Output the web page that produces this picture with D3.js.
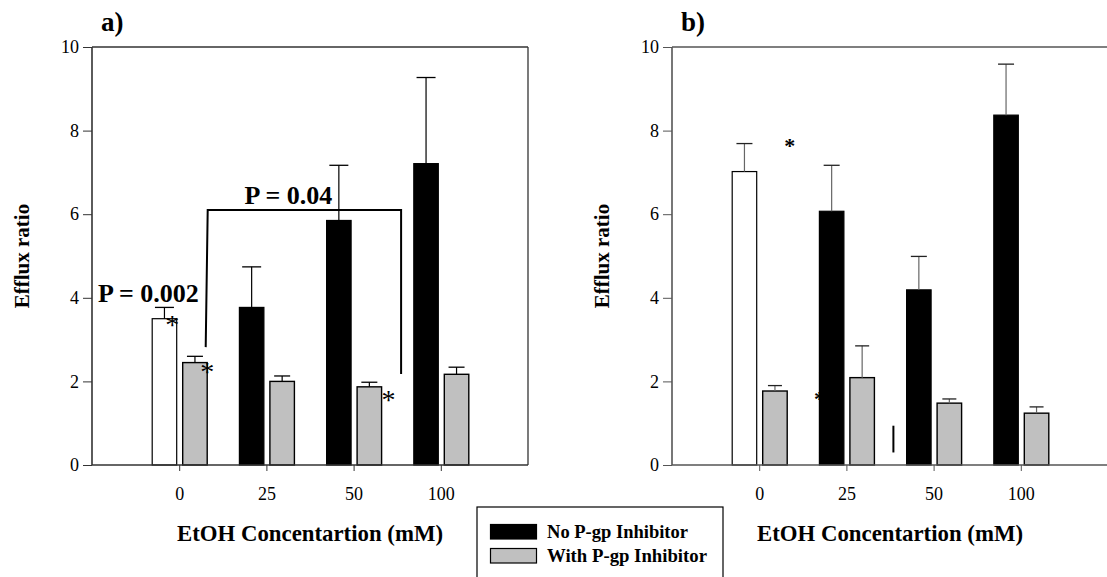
<!DOCTYPE html>
<html>
<head>
<meta charset="utf-8">
<script src="https://cdn.jsdelivr.net/npm/d3@7"></script>
<style>
  html, body { margin: 0; padding: 0; background: #fff; }
  svg { display: block; }
  svg text { font-family: "Liberation Serif", "DejaVu Serif", serif !important; fill: #000; }
</style>
</head>
<body>
<svg id="chart" width="1107" height="577"></svg>
<script>
// EtOH concentrations (mM)
const categories = ["0", "25", "50", "100"];
const yTicks = [0, 2, 4, 6, 8, 10];

// Panel a) efflux ratios
const aNoInhibitor = [3.5, 3.77, 5.85, 7.21];
const aNoInhibitorErr = [0.27, 0.97, 1.32, 2.06];
const aWithInhibitor = [2.45, 2.0, 1.87, 2.17];
const aWithInhibitorErr = [0.15, 0.13, 0.11, 0.17];

// Panel b) efflux ratios
const bNoInhibitor = [7.02, 6.07, 4.19, 8.37];
const bNoInhibitorErr = [0.67, 1.1, 0.8, 1.22];
const bWithInhibitor = [1.77, 2.09, 1.48, 1.24];
const bWithInhibitorErr = [0.13, 0.76, 0.1, 0.15];

// control group (0 mM) is drawn open, the rest solid
const noInhibitorFill = ["#ffffff", "#000000", "#000000", "#000000"];
const legendLabels = ["No P-gp Inhibitor", "With P-gp Inhibitor"];

const FONT = "'Liberation Serif', 'DejaVu Serif', serif";
const svg = d3.select("#chart");
const W = 436, H = 418, TOP = 47;

// asterisk centred on (cx, y-value)
function star(p, y, cx, v, size, weight) {
  p.append("text").attr("x", cx).attr("y", y(v) + size * 0.45)
    .attr("text-anchor", "middle").attr("font-size", size)
    .attr("font-weight", weight || "normal").text("*");
}

function panel(offsetX, label, noInh, noErr, withInh, withErr, opts) {
  const g = svg.append("g").attr("transform", `translate(${offsetX},0)`);
  const x = d3.scalePoint().domain(categories).range([W / 5, 4 * W / 5]);
  const y = d3.scaleLinear().domain([0, 10]).range([TOP + H, TOP]);
  const left = 92;
  const bw = 24.5;

  const plot = g.append("g").attr("transform", `translate(${left},0)`);

  // annotations drawn beneath the bars
  if (opts.under) opts.under(plot, x, y);

  // frame (top and right)
  plot.append("line").attr("x1", 0).attr("x2", W).attr("y1", TOP).attr("y2", TOP)
    .attr("stroke", opts.axisColor).attr("stroke-width", 1.3);
  plot.append("line").attr("x1", W).attr("x2", W).attr("y1", TOP).attr("y2", TOP + H)
    .attr("stroke", opts.axisColor).attr("stroke-width", 1.3);

  // bars without inhibitor
  plot.selectAll(".bNo").data(noInh).join("rect")
    .attr("x", (d, i) => x(categories[i]) - 27)
    .attr("width", bw)
    .attr("y", d => y(d))
    .attr("height", d => y(0) - y(d))
    .attr("fill", (d, i) => noInhibitorFill[i])
    .attr("stroke", "#000").attr("stroke-width", 1.2);

  // bars with inhibitor
  plot.selectAll(".bWith").data(withInh).join("rect")
    .attr("x", (d, i) => x(categories[i]) + 3.5)
    .attr("width", bw)
    .attr("y", d => y(d))
    .attr("height", d => y(0) - y(d))
    .attr("fill", "#c0c0c0")
    .attr("stroke", "#000").attr("stroke-width", 1.4);

  // error bars (upper only)
  function errBars(vals, errs, cx, capW) {
    vals.forEach((v, i) => {
      const xc = cx(i);
      plot.append("line").attr("x1", xc).attr("x2", xc)
        .attr("y1", y(v)).attr("y2", y(v + errs[i]))
        .attr("stroke", opts.errColor).attr("stroke-width", 1.2);
      plot.append("line").attr("x1", xc - capW / 2).attr("x2", xc + capW / 2)
        .attr("y1", y(v + errs[i])).attr("y2", y(v + errs[i]))
        .attr("stroke", opts.capColor).attr("stroke-width", 1.3);
    });
  }
  errBars(noInh, noErr, i => x(categories[i]) - 27 + bw / 2, opts.capBig);
  errBars(withInh, withErr, i => x(categories[i]) + 3.5 + bw / 2, opts.capSmall);

  // axes
  const yAxis = d3.axisLeft(y).tickValues(yTicks).tickSize(9).tickPadding(4).tickFormat(d3.format("d"));
  const ya = plot.append("g").call(yAxis);
  const xAxis = d3.axisBottom(x).tickSize(6).tickPadding(16);
  const xa = plot.append("g").attr("transform", `translate(0,${TOP + H})`).call(xAxis);
  [ya, xa].forEach(a => {
    a.attr("font-family", FONT);
    a.select(".domain").attr("stroke", opts.axisColor).attr("stroke-width", 1.6);
    a.selectAll(".tick line").attr("stroke", opts.axisColor).attr("stroke-width", 1);
    a.selectAll(".tick text").attr("font-size", 18).attr("fill", "#000");
  });
  xa.select(".domain").attr("d", `M0,0H${W}`);
  ya.select(".domain").attr("d", `M0,${TOP + H}V${TOP}`);

  // titles
  g.append("text").attr("x", 101).attr("y", 31)
    .attr("font-size", 27).attr("font-weight", "bold").text(label);
  g.append("text")
    .attr("transform", `translate(29,${TOP + H / 2}) rotate(-90)`)
    .attr("text-anchor", "middle").attr("font-size", 21).attr("font-weight", "bold")
    .text("Efflux ratio");
  g.append("text").attr("x", left + W / 2).attr("y", 541)
    .attr("text-anchor", "middle").attr("font-size", 24).attr("font-weight", "bold")
    .attr("textLength", 266).attr("lengthAdjust", "spacingAndGlyphs")
    .text("EtOH Concentartion (mM)");

  if (opts.over) opts.over(plot, x, y);
}

// panel a) with significance brackets
panel(0, "a)", aNoInhibitor, aNoInhibitorErr, aWithInhibitor, aWithInhibitorErr, {
  axisColor: "#333", errColor: "#000", capColor: "#000", capBig: 19, capSmall: 16,
  over: (p, x, y) => {
    const xl = x("0") + 28.5, xr = x("50") + 47.5, yTop = y(6.1);
    p.append("path")
      .attr("d", `M${xl - 2},${y(2.82)}L${xl},${yTop}H${xr}V${y(2.18)}`)
      .attr("fill", "none").attr("stroke", "#000").attr("stroke-width", 2);
    p.append("text").attr("x", (xl + xr) / 2 - 16).attr("y", yTop - 6)
      .attr("text-anchor", "middle").attr("font-size", 26).attr("font-weight", "bold")
      .text("P = 0.04");
    p.append("text").attr("x", 6).attr("y", y(3.9))
      .attr("font-size", 26).attr("font-weight", "bold").text("P = 0.002");
    star(p, y, x("0") - 7, 3.44, 28);
    star(p, y, x("0") + 28, 2.3, 28);
    star(p, y, x("50") + 35, 1.63, 28);
  }
});

// panel b)
panel(580, "b)", bNoInhibitor, bNoInhibitorErr, bWithInhibitor, bWithInhibitorErr, {
  axisColor: "#555", errColor: "#666", capColor: "#222", capBig: 16, capSmall: 14,
  under: (p, x, y) => {
    star(p, y, x("25") - 27, 1.66, 22, "bold");
  },
  over: (p, x, y) => {
    star(p, y, (x("0") + x("25")) / 2 - 13, 7.7, 22, "bold");
    p.append("line").attr("x1", x("25") + 47).attr("x2", x("25") + 47)
      .attr("y1", y(0.94)).attr("y2", y(0.3))
      .attr("stroke", "#000").attr("stroke-width", 2);
  }
});

// legend
const lg = svg.append("g").attr("transform", "translate(477,507)");
lg.append("rect").attr("x", 0).attr("y", 0).attr("width", 246).attr("height", 80)
  .attr("fill", "#fff").attr("stroke", "#000").attr("stroke-width", 1.2);
const legendFills = ["#000000", "#c0c0c0"];
legendLabels.forEach((t, i) => {
  lg.append("rect").attr("x", 13.5).attr("y", 17.5 + i * 24).attr("width", 46).attr("height", 14.5)
    .attr("fill", legendFills[i]).attr("stroke", "#000").attr("stroke-width", 1.2);
  lg.append("text").attr("x", 70).attr("y", 31 + i * 24)
    .attr("font-size", 18).attr("font-weight", "bold")
    .attr("textLength", i === 0 ? 141 : 160).attr("lengthAdjust", "spacingAndGlyphs")
    .text(t);
});
</script>
</body>
</html>
